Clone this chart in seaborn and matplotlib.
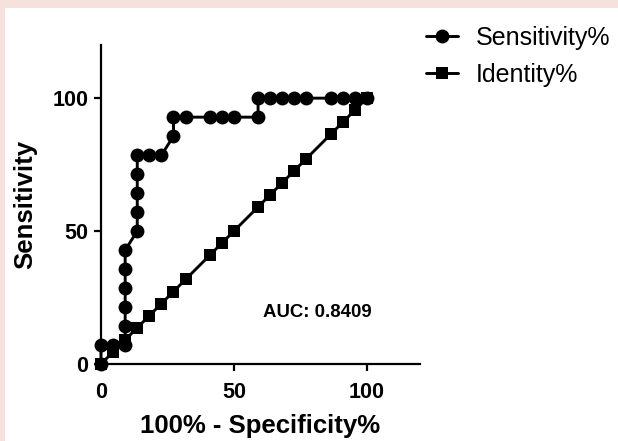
import numpy as np
import pandas as pd
import matplotlib
matplotlib.use("Agg")
import matplotlib.pyplot as plt
import seaborn as sns
from matplotlib.patches import Rectangle

# ROC data (x = 100% - Specificity%)
sens_x = [0, 0, 4.55, 9.09, 9.09, 9.09, 9.09, 9.09, 9.09, 13.64, 13.64, 13.64, 13.64, 13.64,
          18.18, 22.73, 27.27, 27.27, 31.82, 40.91, 45.45, 50.0, 59.09, 59.09, 63.64, 68.18,
          72.73, 77.27, 86.36, 90.91, 95.45, 100.0]
sens_y = [0, 7.14, 7.14, 7.14, 14.29, 21.43, 28.57, 35.71, 42.86, 50.0, 57.14, 64.29, 71.43, 78.57,
          78.57, 78.57, 85.71, 92.86, 92.86, 92.86, 92.86, 92.86, 92.86, 100, 100, 100,
          100, 100, 100, 100, 100, 100]
ident_x = [0, 4.55, 9.09, 13.64, 18.18, 22.73, 27.27, 31.82, 40.91, 45.45, 50.0, 59.09,
           63.64, 68.18, 72.73, 77.27, 86.36, 90.91, 95.45, 100.0]
ident_y = [0, 4.55, 9.09, 13.64, 18.18, 22.73, 27.27, 31.82, 40.91, 45.45, 50.0, 59.09,
           63.64, 68.18, 72.73, 77.27, 86.36, 90.91, 95.45, 100.0]
auc_text = "AUC: 0.8409"

sns.set_theme(style="ticks")
plt.rcParams['font.family'] = ['Liberation Sans', 'DejaVu Sans']
plt.rcParams['text.color'] = 'black'
plt.rcParams['axes.labelcolor'] = 'black'
plt.rcParams['xtick.color'] = 'black'
plt.rcParams['ytick.color'] = 'black'

fig = plt.figure(figsize=(6.18, 4.41), dpi=100)
fig.patch.set_facecolor("white")
# thin pink strips on top and left edge
pink = "#f6e2dd"
fig.patches.append(Rectangle((0, 1 - 8 / 441), 1, 8 / 441, transform=fig.transFigure,
                             facecolor=pink, edgecolor="none"))
fig.patches.append(Rectangle((0, 0), 5 / 618, 1, transform=fig.transFigure,
                             facecolor=pink, edgecolor="none"))

ax = fig.add_axes([101 / 618, 77 / 441, 319 / 618, 319 / 441])
ax.set_facecolor("none")

df_sens = pd.DataFrame({"x": sens_x, "y": sens_y})
df_ident = pd.DataFrame({"x": ident_x, "y": ident_y})

sns.lineplot(data=df_ident, x="x", y="y", ax=ax, estimator=None, sort=False,
             color="black", linewidth=2.1, marker="s", markersize=8.5, markeredgewidth=0,
             label="Identity%", clip_on=False, zorder=3)
sns.lineplot(data=df_sens, x="x", y="y", ax=ax, estimator=None, sort=False,
             color="black", linewidth=2.1, marker="o", markersize=10, markeredgewidth=0,
             label="Sensitivity%", clip_on=False, zorder=4)

ax.set_xlim(0, 120)
ax.set_ylim(0, 120)
ax.set_xticks([0, 50, 100])
ax.set_yticks([0, 50, 100])
sns.despine(ax=ax)
for side in ["left", "bottom"]:
    ax.spines[side].set_linewidth(1.6)
    ax.spines[side].set_color("black")
ax.tick_params(axis="both", length=5, width=1.6, color="black", labelsize=15.5, pad=4)
ax.tick_params(axis="x", pad=8)
for lab in ax.get_xticklabels() + ax.get_yticklabels():
    lab.set_fontweight("bold")

ax.set_xlabel("100% - Specificity%", fontsize=18.5, fontweight="bold", labelpad=8)
ax.set_ylabel("Sensitivity", fontsize=18.5, fontweight="bold", labelpad=11)

ax.text(81.5, 19.5, auc_text, fontsize=13.4, fontweight="bold", ha="center", va="center")

handles, labels = ax.get_legend_handles_labels()
ax.get_legend().remove()
order = [labels.index("Sensitivity%"), labels.index("Identity%")]
fig.legend([handles[i] for i in order], [labels[i] for i in order],
           loc="upper left", bbox_to_anchor=(408 / 618, 1 - 8 / 441),
           frameon=False, fontsize=18, handlelength=1.3, handletextpad=0.7,
           labelspacing=0.54, borderpad=0.2)

fig.savefig("out.png", dpi=100)
